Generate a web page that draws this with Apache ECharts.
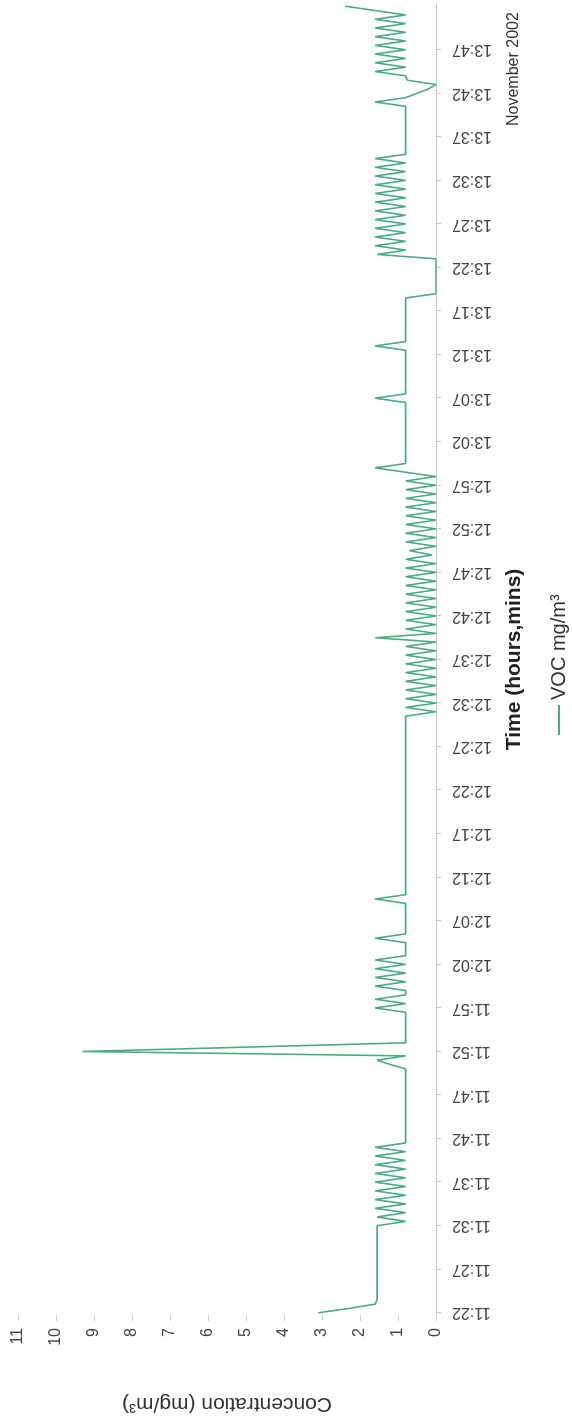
<!DOCTYPE html>
<html>
<head>
<meta charset="utf-8">
<title>VOC concentration</title>
<script src="https://cdn.jsdelivr.net/npm/echarts@6/dist/echarts.min.js"></script>
<style>
  html, body { margin: 0; padding: 0; background: #ffffff; }
  body { width: 572px; height: 1416px; overflow: hidden; position: relative; }
  /* The chart is laid out landscape and turned a quarter turn to sit on the page */
  #chart {
    position: absolute; left: 0; top: 0;
    width: 1416px; height: 572px;
    transform-origin: 0 0;
    transform: translate(0px, 1416px) rotate(-90deg);
  }
</style>
</head>
<body>
<div id="chart"></div>
<script>
// Time-axis tick labels, one every 5 minutes (samples are logged every 30 s)
const timeLabels = [
  '11:22','11:27','11:32','11:37','11:42','11:47','11:52','11:57','12:02','12:07',
  '12:12','12:17','12:22','12:27','12:32','12:37','12:42','12:47','12:52','12:57',
  '13:02','13:07','13:12','13:17','13:22','13:27','13:32','13:37','13:42','13:47'
];
const samplesPerLabel = 10;
const startTime = '11:22';

// Concentration axis tick values (mg/m³)
const concentrationTicks = [0, 1, 2, 3, 4, 5, 6, 7, 8, 9, 10, 11];

// VOC concentration, mg/m³, one reading every 30 s (10 readings per row = 5 minutes)
const vocMgM3 = [
  3.1, 2.3, 1.6, 1.55, 1.55, 1.55, 1.55, 1.55, 1.55, 1.55,   // 11:22
  1.55, 1.55, 1.55, 1.55, 1.55, 1.55, 1.55, 1.55, 1.55, 1.55, // 11:27
  1.55, 0.8, 1.55, 0.8, 1.6, 0.8, 1.6, 0.8, 1.6, 0.8,         // 11:32
  1.6, 0.8, 1.6, 0.8, 1.6, 0.8, 1.6, 0.8, 1.6, 0.8,           // 11:37
  0.8, 0.8, 0.8, 0.8, 0.8, 0.8, 0.8, 0.8, 0.8, 0.8,           // 11:42
  0.8, 0.8, 0.8, 0.8, 0.8, 0.8, 0.8, 1.2, 1.55, 0.8,          // 11:47
  9.3, 5.0, 0.8, 0.8, 0.8, 0.8, 0.8, 0.8, 0.8, 0.8,           // 11:52
  1.6, 0.8, 1.6, 0.8, 0.8, 1.6, 0.8, 1.6, 0.8, 1.6,           // 11:57
  0.8, 1.6, 0.8, 0.8, 0.8, 0.8, 1.6, 0.8, 0.8, 0.8,           // 12:02
  0.8, 0.8, 0.8, 0.8, 0.8, 1.6, 0.8, 0.8, 0.8, 0.8,           // 12:07
  0.8, 0.8, 0.8, 0.8, 0.8, 0.8, 0.8, 0.8, 0.8, 0.8,           // 12:12
  0.8, 0.8, 0.8, 0.8, 0.8, 0.8, 0.8, 0.8, 0.8, 0.8,           // 12:17
  0.8, 0.8, 0.8, 0.8, 0.8, 0.8, 0.8, 0.8, 0.8, 0.8,           // 12:22
  0.8, 0.8, 0.8, 0.8, 0.8, 0.8, 0.8, 0.8, 0.0, 0.8,           // 12:27
  0.0, 0.8, 0.0, 0.8, 0.0, 0.8, 0.0, 0.8, 0.0, 0.8,           // 12:32
  0.0, 0.8, 0.0, 0.8, 0.0, 1.6, 0.0, 0.8, 0.0, 0.8,           // 12:37
  0.0, 0.8, 0.0, 0.8, 0.0, 0.8, 0.0, 0.8, 0.0, 0.8,           // 12:42
  0.0, 0.8, 0.0, 0.8, 0.1, 0.7, 0.0, 0.8, 0.0, 0.8,           // 12:47
  0.0, 0.8, 0.0, 0.8, 0.0, 0.8, 0.0, 0.8, 0.0, 0.8,           // 12:52
  0.0, 0.8, 0.0, 0.8, 1.6, 0.8, 0.8, 0.8, 0.8, 0.8,           // 12:57
  0.8, 0.8, 0.8, 0.8, 0.8, 0.8, 0.8, 0.8, 0.8, 0.8,           // 13:02
  1.6, 0.8, 0.8, 0.8, 0.8, 0.8, 0.8, 0.8, 0.8, 0.8,           // 13:07
  0.8, 0.8, 1.6, 0.8, 0.8, 0.8, 0.8, 0.8, 0.8, 0.8,           // 13:12
  0.8, 0.8, 0.8, 0.8, 0.0, 0.0, 0.0, 0.0, 0.0, 0.0,           // 13:17
  0.0, 0.0, 0.0, 1.55, 0.8, 1.6, 0.8, 1.6, 0.8, 1.6,          // 13:22
  0.8, 1.6, 0.8, 1.6, 0.8, 1.6, 0.8, 1.6, 0.8, 1.6,           // 13:27
  0.8, 1.6, 0.8, 1.6, 0.8, 1.6, 0.8, 0.8, 0.8, 0.8,           // 13:32
  0.8, 0.8, 0.8, 0.8, 0.8, 0.8, 0.8, 0.8, 1.6, 0.8,           // 13:37
  0.5, 0.2, 0.0, 0.75, 0.8, 1.6, 0.8, 1.6, 0.8, 1.6,          // 13:42
  0.8, 1.6, 0.8, 1.6, 0.8, 1.6, 0.8, 1.6, 0.8, 1.6,           // 13:47
  2.4                                                         // 13:52
];

const seriesName = 'VOC mg/m³';
const chartTitle = 'November 2002';
const timeAxisName = 'Time (hours,mins)';
const concentrationAxisName = 'Concentration (mg/m³)';

// Category for each 30 s reading (h:mm:ss)
const [startH, startM] = startTime.split(':').map(Number);
const categories = vocMgM3.map((_, i) => {
  const secs = (startH * 60 + startM) * 60 + i * 30;
  const h = Math.floor(secs / 3600);
  const m = Math.floor((secs % 3600) / 60);
  const s = secs % 60;
  return h + ':' + String(m).padStart(2, '0') + ':' + String(s).padStart(2, '0');
});

const showTick = (idx) => idx % samplesPerLabel === 0 && idx / samplesPerLabel < timeLabels.length;

const FONT = '"Liberation Sans", Arial, sans-serif';
const chart = echarts.init(document.getElementById('chart'), null, { renderer: 'canvas' });

chart.setOption({
  animation: false,
  backgroundColor: '#ffffff',
  textStyle: { fontFamily: FONT },
  grid: { left: 101, right: 4, top: 18, bottom: 136, containLabel: false, outerBoundsMode: 'none' },
  legend: {
    data: [seriesName],
    left: 676, top: 544,
    icon: 'rect', itemWidth: 30, itemHeight: 2, itemGap: 4,
    textStyle: { fontFamily: FONT, fontSize: 20, color: '#333' }
  },
  graphic: [{
    type: 'text',
    left: 1290, top: 506,
    style: { text: chartTitle, font: '16px ' + FONT, fill: '#333' }
  }],
  xAxis: {
    type: 'category',
    data: categories,
    boundaryGap: true,
    name: timeAxisName,
    nameLocation: 'middle',
    nameGap: 68,
    nameTextStyle: { fontFamily: FONT, fontSize: 21, fontWeight: 'bold', color: '#222' },
    axisLine: { show: true, lineStyle: { color: '#c8c8c8', width: 1 } },
    axisTick: { show: true, interval: showTick, alignWithLabel: true, length: 5, lineStyle: { color: '#c8c8c8' } },
    axisLabel: {
      interval: showTick,
      rotate: 90,
      margin: 16,
      fontSize: 16,
      color: '#444',
      fontFamily: FONT,
      formatter: (value, idx) => timeLabels[idx / samplesPerLabel]
    },
    splitLine: { show: false }
  },
  yAxis: {
    type: 'value',
    min: concentrationTicks[0],
    max: concentrationTicks[concentrationTicks.length - 1],
    interval: concentrationTicks[1] - concentrationTicks[0],
    name: concentrationAxisName,
    nameLocation: 'middle',
    nameRotate: 90,
    nameGap: 78,
    nameTextStyle: { fontFamily: FONT, fontSize: 21, color: '#333' },
    axisLine: { show: false },
    axisTick: { show: true, length: 6, lineStyle: { color: '#d0d0d0' } },
    axisLabel: { margin: 13, fontSize: 16, color: '#444', fontFamily: FONT },
    splitLine: { show: false }
  },
  series: [{
    name: seriesName,
    type: 'line',
    data: vocMgM3,
    showSymbol: false,
    symbol: 'none',
    lineStyle: { color: '#46ae7c', width: 1.6 },
    itemStyle: { color: '#46ae7c' }
  }]
});
</script>
</body>
</html>
